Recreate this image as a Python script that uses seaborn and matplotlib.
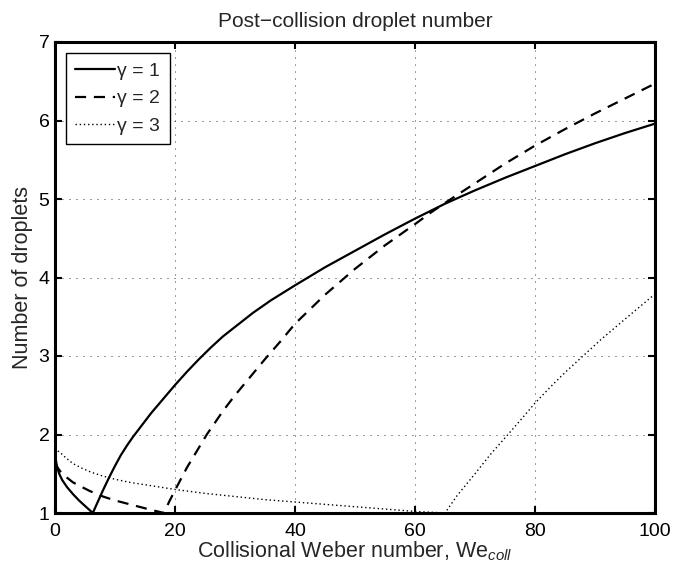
import matplotlib
matplotlib.use("Agg")
import matplotlib.pyplot as plt
import seaborn as sns
import pandas as pd

# ---- data ----
g1_x = [0, 0.3, 0.7, 1.2, 2, 3, 4, 5, 6.3, 7, 8, 9, 10, 11, 12, 13, 14, 15, 16, 17, 18, 19, 20,
        22, 24, 26, 28, 30, 33, 36, 40, 45, 50, 55, 60, 65, 70, 75, 80, 85, 90, 95, 100]
g1_y = [1.75, 1.60, 1.50, 1.42, 1.33, 1.24, 1.16, 1.09, 1.0, 1.12, 1.29, 1.45, 1.60, 1.74, 1.86, 1.97,
        2.07, 2.17, 2.27, 2.36, 2.45, 2.54, 2.63, 2.80, 2.96, 3.11, 3.25, 3.37, 3.55, 3.71, 3.90,
        4.13, 4.34, 4.55, 4.75, 4.94, 5.11, 5.27, 5.42, 5.57, 5.71, 5.84, 5.96]

g2_x = [0, 0.5, 1, 2, 3, 4, 5.8, 8, 10, 12, 14, 16, 18.2, 19, 20, 22, 25.3, 28, 30, 32.5, 35, 37.5,
        40, 45, 50, 55, 60, 62.5, 65, 70, 75, 80, 85, 90, 95, 100]
g2_y = [1.64, 1.57, 1.52, 1.45, 1.39, 1.35, 1.28, 1.21, 1.16, 1.12, 1.08, 1.04, 1.0, 1.14, 1.29,
        1.58, 2.0, 2.30, 2.50, 2.73, 2.96, 3.18, 3.41, 3.78, 4.11, 4.41, 4.68, 4.82, 4.95, 5.20,
        5.45, 5.68, 5.89, 6.09, 6.28, 6.47]

g3_x = [0, 0.5, 1, 2, 3, 4.5, 6, 8, 10, 12.5, 15, 17.5, 20, 25, 30, 35, 40, 45, 50, 55, 60, 65,
        67, 70, 72.5, 75.5, 78, 80, 82.5, 85, 88, 91, 95, 97.5, 100]
g3_y = [1.83, 1.79, 1.76, 1.69, 1.63, 1.57, 1.52, 1.47, 1.43, 1.39, 1.36, 1.33, 1.30, 1.25, 1.21,
        1.17, 1.14, 1.11, 1.08, 1.05, 1.02, 1.0, 1.22, 1.50, 1.74, 2.0, 2.22, 2.40, 2.60, 2.79,
        3.0, 3.21, 3.47, 3.63, 3.79]

labels = ["γ = 1", "γ = 2", "γ = 3"]
x_ticks = [0, 20, 40, 60, 80, 100]
y_ticks = [1, 2, 3, 4, 5, 6, 7]

sns.set_style("ticks")
plt.rcParams["font.family"] = ["Liberation Sans", "DejaVu Sans"]
plt.rcParams["mathtext.fontset"] = "custom"
plt.rcParams["mathtext.rm"] = "Liberation Sans"
plt.rcParams["mathtext.it"] = "Liberation Sans:italic"

fig = plt.figure(figsize=(6.74, 5.73), dpi=100)
fig.patch.set_facecolor("white")
ax = fig.add_axes([55 / 674, 1 - 513 / 573, 600 / 674, 471 / 573])
ax.set_facecolor("white")

series = [(g1_x, g1_y, "-", 1.6), (g2_x, g2_y, (0, (5, 3.5)), 1.6), (g3_x, g3_y, (0, (1, 2)), 1.0)]
for (xs, ys, ls, lw), lab in zip(series, labels):
    df = pd.DataFrame({"x": xs, "y": ys})
    sns.lineplot(data=df, x="x", y="y", ax=ax, color="black", linestyle=ls,
                 linewidth=lw, label=lab, sort=False, estimator=None)

ax.set_xlim(0, 100)
ax.set_ylim(1, 7)
ax.set_xticks(x_ticks)
ax.set_yticks(y_ticks)
ax.grid(True, color="#333333", linestyle=(0, (1, 6.2)), linewidth=0.7)
ax.tick_params(direction="in", length=5, width=1.5, top=True, right=True,
               labelsize=14, colors="black")
ax.tick_params(axis="x", pad=7)
ax.tick_params(axis="y", pad=4)
for s in ax.spines.values():
    s.set_linewidth(2.2)
    s.set_color("black")
    s.set_visible(True)

ax.set_xlabel("Collisional Weber number, We$_{\\mathit{coll}}$", fontsize=15.5, labelpad=0)
ax.set_ylabel("Number of droplets", fontsize=15.5, labelpad=4)
ax.set_title("Post\u2212collision droplet number", fontsize=15, pad=11)

leg = ax.legend(loc="upper left", fontsize=14, frameon=True, fancybox=False,
                edgecolor="black", framealpha=1, handlelength=2.05, handletextpad=0.1,
                labelspacing=0.5, borderpad=0.5, borderaxespad=0.55)
leg.get_frame().set_linewidth(1.0)

fig.savefig("out.png", dpi=100, facecolor="white")
